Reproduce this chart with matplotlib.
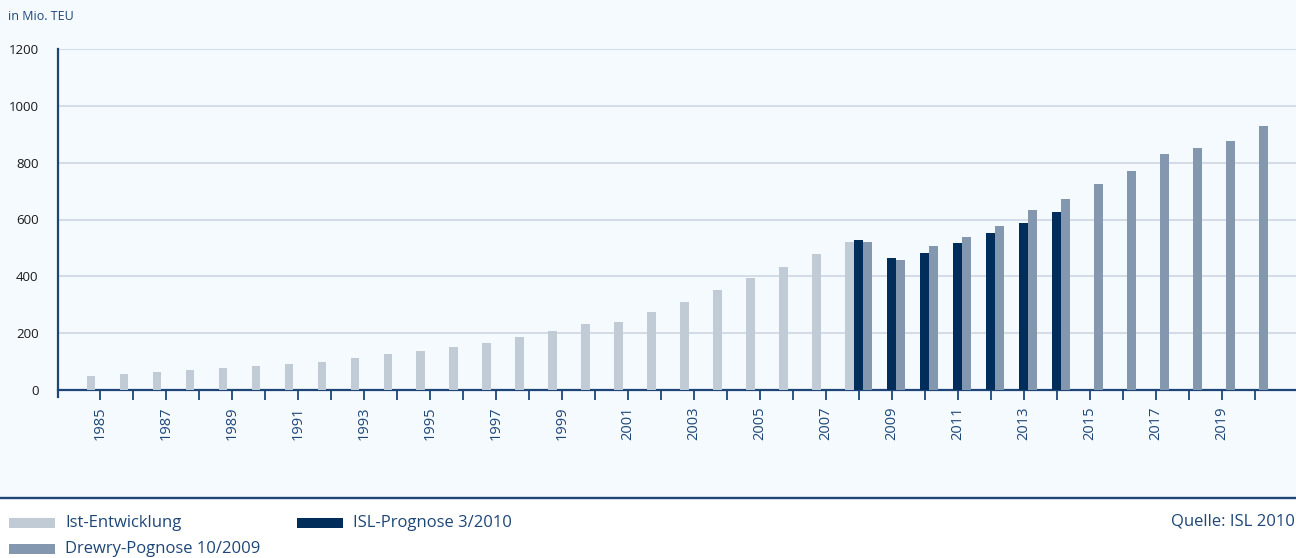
import matplotlib.pyplot as plt
from matplotlib.patches import Rectangle
from matplotlib.lines import Line2D

plt.rcParams['font.family'] = ['Open Sans', 'DejaVu Sans']

# data (Mio. TEU)
years = list(range(1985, 2021))
ist_years = list(range(1985, 2009))
ist = [51, 58, 62, 69, 76, 83, 90, 100, 111, 125, 139, 153, 167, 185, 206,
       231, 241, 273, 308, 351, 393, 432, 477, 520]
isl_years = list(range(2008, 2015))
isl = [527, 463, 481, 516, 551, 587, 625]
drewry_years = list(range(2008, 2021))
drewry = [520, 456, 506, 540, 576, 632, 671, 724, 770, 830, 851, 876, 928]

c_ist = '#c1cbd6'
c_isl = '#002d5a'
c_drewry = '#8397af'
navy = '#1d4677'
bg = '#f5faff'
grid = '#c9d4e0'

fig = plt.figure(figsize=(12.96, 5.58), dpi=100, facecolor='white')
fig.patches.append(Rectangle((0, 1 - 497 / 558), 1, 497 / 558, transform=fig.transFigure,
                             facecolor=bg, edgecolor='none', zorder=-10))
fig.add_artist(Line2D([0, 1], [1 - 497.5 / 558] * 2, transform=fig.transFigure,
                      color=navy, lw=1.7))

ax = fig.add_axes([58 / 1296, 1 - 390 / 558, 1 - 58 / 1296, (390 - 49) / 558])
ax.set_facecolor('none')

w = 0.27
ax.bar([y - 1985 - w for y in ist_years], ist, width=w, color=c_ist, zorder=3)
ax.bar([y - 1985 for y in isl_years], isl, width=w, color=c_isl, zorder=3)
ax.bar([y - 1985 + w for y in drewry_years], drewry, width=w, color=c_drewry, zorder=3)

ax.set_ylim(0, 1200)
ax.set_xlim(-1.27, 36.25)
ax.set_yticks(range(0, 1201, 200))
ax.yaxis.grid(True, color=grid, lw=1.1)
ax.set_axisbelow(True)
ax.tick_params(axis='y', length=0, pad=14, labelsize=9.5, labelcolor='#1a1a1a')

ax.set_xticks(range(len(years)))
ax.set_xticklabels([str(y) if y % 2 == 1 else '' for y in years], rotation=90,
                   fontsize=10.5, color=navy)
ax.tick_params(axis='x', length=7, width=1.3, color=navy, pad=5)

for s in ['top', 'right']:
    ax.spines[s].set_visible(False)
ax.spines['bottom'].set_color(navy)
ax.spines['bottom'].set_linewidth(1.6)
ax.spines['left'].set_color(navy)
ax.spines['left'].set_linewidth(1.6)
ax.spines['left'].set_bounds(-25, 1200)

fig.text(8 / 1296, 1 - 17 / 558, 'in Mio. TEU', fontsize=9, color=navy, va='center')

# legend
def swatch(x, y, color, label):
    fig.patches.append(Rectangle((x / 1296, 1 - (y + 5) / 558), 46 / 1296, 10 / 558,
                                 transform=fig.transFigure, facecolor=color,
                                 edgecolor='none'))
    fig.text((x + 56) / 1296, 1 - y / 558, label, fontsize=12, color=navy, va='center')

swatch(9, 523, c_ist, 'Ist-Entwicklung')
swatch(297, 523, c_isl, 'ISL-Prognose 3/2010')
swatch(9, 549, c_drewry, 'Drewry-Pognose 10/2009')
fig.text(1295 / 1296, 1 - 522 / 558, 'Quelle: ISL 2010', fontsize=12, color=navy,
         va='center', ha='right')

fig.savefig('out.png', dpi=100, facecolor='white')
